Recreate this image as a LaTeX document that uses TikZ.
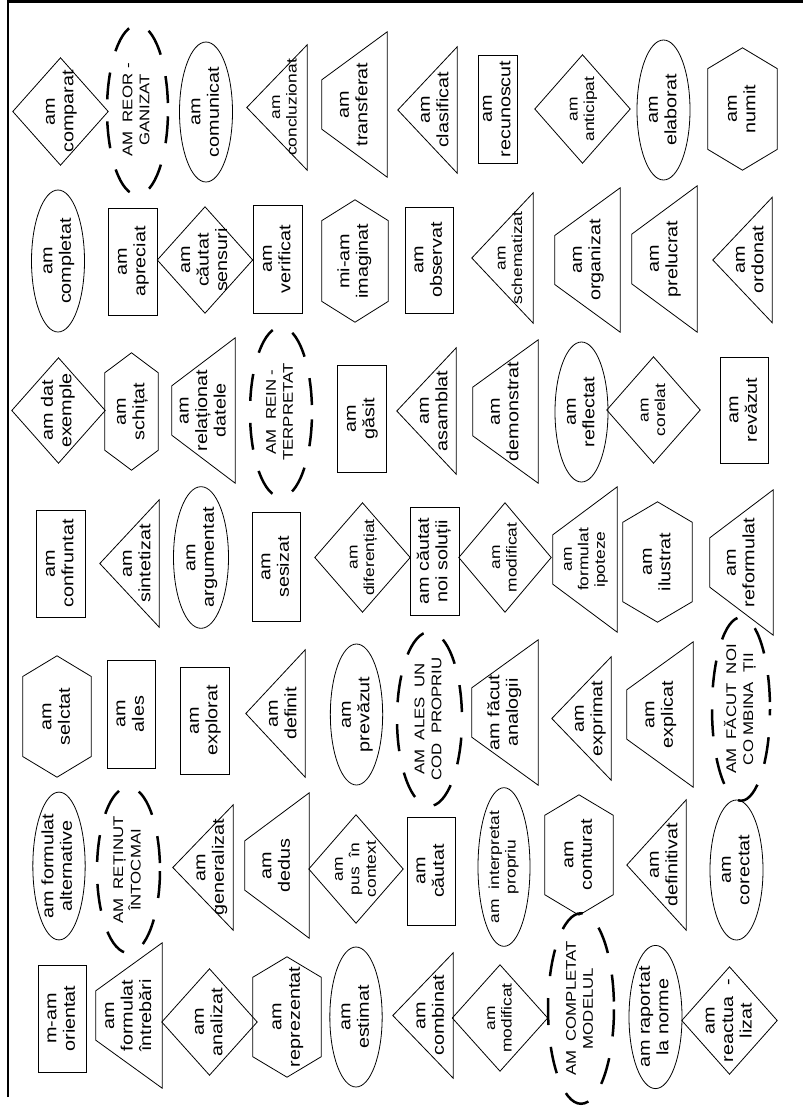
\documentclass[tikz,border=0pt]{standalone}
\usepackage{fontspec}
\usepackage{graphicx}
\setmainfont{Liberation Sans}
\newfontfamily\itemfont[FakeStretch=1.2]{Liberation Sans}
\usetikzlibrary{shapes.geometric,calc}
\newcommand{\vt}[1]{\rotatebox{90}{\begin{tabular}{@{}c@{}}#1\end{tabular}}}
\tikzset{
  outl/.style={line width=0.8pt},
  box/.style 2 args={inner sep=0pt, minimum width=#1pt, minimum height=#2pt},
  sm/.style={font=\fontsize{14.5}{16.5}\itemfont},
  upper/.style={font=\fontsize{14}{17}\itemfont},
  rectbox/.style 2 args={box={#1}{#2}, draw, outl},
  ovalbox/.style 2 args={box={#1}{#2}, ellipse, draw, outl},
  dashbox/.style 2 args={box={#1}{#2}, ellipse, draw, line width=2.5pt,
                         dash pattern=on 27pt off 22pt, dash phase=42pt, upper},
  diabox/.style 2 args={box={#1}{#2}},
  hexbox/.style 2 args={box={#1}{#2}},
  trapbox/.style 2 args={box={#1}{#2}},
  tribox/.style 2 args={inner sep=0pt, minimum width=#1pt-16pt, minimum height=#2pt, xshift=8pt}
}

\begin{document}
\begin{tikzpicture}[x=1pt, y=-1pt, font=\fontsize{16.5}{18.5}\itemfont]
\useasboundingbox (0,0) rectangle (803,1106);
\draw[line width=2.6pt] (8,1097) -- (8,1.5) -- (803,1.5);
% band 1
\node[diabox={95}{107}] (comparat) at (60.5,111.5) {\vt{am\\comparat}};
\node[dashbox={61}{170}] (reorg) at (137.5,110) {\vt{AM~~REOR -\\GANIZAT}};
\node[ovalbox={53}{140}] (comunicat) at (206,112) {\vt{am\\comunicat}};
\node[tribox={60}{125}, sm] (concluzionat) at (277,107.5) {\vt{am\\concluzionat}};
\node[trapbox={65}{145}] (transferat) at (354.5,104.5) {\vt{am\\transferat}};
\node[tribox={59}{126}] (clasificat) at (427.5,110) {\vt{am\\clasificat}};
\node[rectbox={39}{108}] (recunoscut) at (497.5,109) {\vt{am\\recunoscut}};
\node[diabox={95}{108}, sm] (anticipat) at (582.5,109) {\vt{am\\anticipat}};
\node[ovalbox={53}{140}] (elaborat) at (663.5,110) {\vt{am\\elaborat}};
\node[hexbox={69}{122}] (numit) at (742.5,109) {\vt{am\\numit}};
% band 2
\node[ovalbox={53}{142}] (completat) at (58,261) {\vt{am\\completat}};
\node[rectbox={49}{107}] (apreciat) at (132.5,261.5) {\vt{am\\apreciat}};
\node[diabox={95}{106}] (sensuri) at (205,260) {\vt{am\\căutat\\sensuri}};
\node[rectbox={49}{108}] (verificat) at (277.5,259) {\vt{am\\verificat}};
\node[hexbox={66}{122}] (imaginat) at (355,261) {\vt{mi-am\\imaginat}};
\node[rectbox={48}{106}] (observat) at (429,260) {\vt{am\\observat}};
\node[tribox={61}{130}, sm] (schematizat) at (502.5,258) {\vt{am\\schematizat}};
\node[trapbox={65}{144}] (organizat) at (587.5,260) {\vt{am\\organizat}};
\node[trapbox={65}{146}] (prelucrat) at (664.5,259) {\vt{am\\prelucrat}};
\node[tribox={59}{125}] (ordonat) at (742.5,260) {\vt{am\\ordonat}};
% band 3
\node[diabox={93}{105}] (exemple) at (58.5,410.5) {\vt{am dat\\exemple}};
\node[hexbox={53}{117}] (schitat) at (131.5,411.5) {\vt{am\\schițat}};
\node[trapbox={63}{145}] (relationat) at (203.5,410.5) {\vt{am\\relaționat\\datele}};
\node[dashbox={62}{170}] (reint) at (281,412) {\vt{AM~~REIN -\\TERPRETAT}};
\node[rectbox={49}{107}] (gasit) at (361.5,418.5) {\vt{am\\găsit}};
\node[tribox={59}{126}] (asamblat) at (426.5,411) {\vt{am\\asamblat}};
\node[trapbox={65}{143}] (demonstrat) at (505.5,411.5) {\vt{am\\demonstrat}};
\node[ovalbox={53}{140}] (reflectat) at (581.5,412) {\vt{am\\reflectat}};
\node[diabox={93}{106}, sm] (corelat) at (653.5,410) {\vt{am\\corelat}};
\node[rectbox={48}{106}] (revazut) at (744,410) {\vt{am\\revăzut}};
% band 4
\node[rectbox={49}{107}] (confruntat) at (60.5,563.5) {\vt{am\\confruntat}};
\node[tribox={59}{127}] (sintetizat) at (129.5,563.5) {\vt{am\\sintetizat}};
\node[ovalbox={55}{128}] (argumentat) at (201,557.5) {\vt{am\\argumentat}};
\node[rectbox={48}{109}] (sesizat) at (276,567) {\vt{am\\sesizat}};
\node[diabox={95}{109}, sm] (diferentiat) at (362.5,557.5) {\vt{am\\diferențiat}};
\node[rectbox={49}{108}] (solutii) at (434.5,561) {\vt{am căutat\\noi soluții}};
\node[diabox={92}{109}, sm] (modifA) at (505,557.5) {\vt{am\\modificat}};
\node[trapbox={64}{145}, sm] (ipoteze) at (585,559.5) {\vt{am\\formulat\\ipoteze}};
\node[hexbox={69}{120}] (ilustrat) at (657.5,562) {\vt{am\\ilustrat}};
\node[trapbox={63}{145}] (reformulat) at (741.5,562.5) {\vt{am\\reformulat}};
% band 5
\node[hexbox={68}{121}] (selctat) at (57,716.5) {\vt{am\\selctat}};
\node[rectbox={48}{108}] (ales) at (131,714) {\vt{am\\ales}};
\node[rectbox={49}{107}] (explorat) at (204.5,720.5) {\vt{am\\explorat}};
\node[tribox={59}{127}] (definit) at (275.5,713.5) {\vt{am\\definit}};
\node[ovalbox={51}{141}] (prevazut) at (356.5,714.5) {\vt{am\\prevăzut}};
\node[dashbox={65}{168}] (cod) at (429.5,719) {\vt{AM~~ALES~~UN\\COD~~PROPRIU}};
\node[trapbox={66}{145}] (analogii) at (505,712.5) {\vt{am făcut\\analogii}};
\node[tribox={59}{123}] (exprimat) at (581.5,718.5) {\vt{am\\exprimat}};
\node[trapbox={66}{145}] (explicat) at (660,714.5) {\vt{am\\explicat}};
\node[dashbox={58}{162}] (combinatii) at (741,709) {\vt{AM~~FĂCUT~~NOI\\CO MBINA~~ȚII}};
% band 6
\node[ovalbox={52}{142}] (alternative) at (59,866) {\vt{am formulat\\alternative}};
\node[dashbox={63}{166}] (retinut) at (128.5,870) {\vt{AM~~REȚINUT\\ÎNTOCMAI}};
\node[tribox={60}{125}] (generalizat) at (203,867.5) {\vt{am\\generalizat}};
\node[trapbox={64}{145}] (dedus) at (277,865.5) {\vt{am\\dedus}};
\node[diabox={94}{108}, sm] (context) at (356,869) {\vt{am\\pus~~în\\context}};
\node[rectbox={48}{108}] (cautat) at (431,871) {\vt{am\\căutat}};
\node[ovalbox={52}{140}, sm] (propriu) at (504,867) {\vt{am~~interpretat\\propriu}};
\node[hexbox={68}{120}] (conturat) at (579,855) {\vt{am\\conturat}};
\node[tribox={59}{130}] (definitivat) at (656.5,865) {\vt{am\\definitivat}};
\node[ovalbox={53}{140}] (corectat) at (736.5,870) {\vt{am\\corectat}};
% band 7
\node[rectbox={48}{107}] (orientat) at (62,1018.5) {\vt{m-am\\orientat}};
\node[trapbox={66}{145}] (intrebari) at (129,1015.5) {\vt{am\\formulat\\întrebări}};
\node[diabox={95}{106}] (analizat) at (209.5,1022) {\vt{am\\analizat}};
\node[hexbox={68}{120}] (reprezentat) at (287,1017) {\vt{am\\reprezentat}};
\node[ovalbox={52}{140}] (estimat) at (356,1017) {\vt{am\\estimat}};
\node[tribox={60}{125}] (combinat) at (423,1015.5) {\vt{am\\combinat}};
\node[diabox={95}{106}, sm] (modifB) at (500,1018) {\vt{am\\modificat}};
\node[dashbox={66}{173}] (modelul) at (581,1008.5) {\vt{AM~~COMPLETAT\\MODELUL}};
\node[ovalbox={53}{140}] (norme) at (655.5,1017) {\vt{am raportat\\la norme}};
\node[diabox={95}{107}] (reactualizat) at (729.5,1020.5) {\vt{am\\reactua~~-\\lizat}};
% outlines
\foreach \n in {comparat,anticipat,sensuri,exemple,corelat,diferentiat,modifA,context,analizat,modifB,reactualizat}
  \draw[outl] (\n.north) -- (\n.east) -- (\n.south) -- (\n.west) -- cycle;
\foreach \n in {concluzionat,clasificat,schematizat,ordonat,asamblat,sintetizat,definit,exprimat,generalizat,definitivat,combinat}
  \draw[outl] ($(\n.west)+(-16,0)$) -- (\n.north east) -- (\n.south east) -- cycle;
\foreach \n in {transferat,organizat,prelucrat,relationat,demonstrat,ipoteze,reformulat,analogii,explicat,dedus,intrebari}
  \draw[outl] (\n.north east) -- (\n.south east) -- ($(\n.north west)!.67!(\n.south west)$) -- ($(\n.north west)!.33!(\n.south west)$) -- cycle;
\foreach \n in {numit,imaginat,schitat,ilustrat,selctat,conturat,reprezentat}
  \draw[outl] (\n.north) -- ($(\n.north east)!.17!(\n.south east)$) -- ($(\n.north east)!.83!(\n.south east)$)
    -- (\n.south) -- ($(\n.north west)!.83!(\n.south west)$) -- ($(\n.north west)!.17!(\n.south west)$) -- cycle;
\end{tikzpicture}
\end{document}
